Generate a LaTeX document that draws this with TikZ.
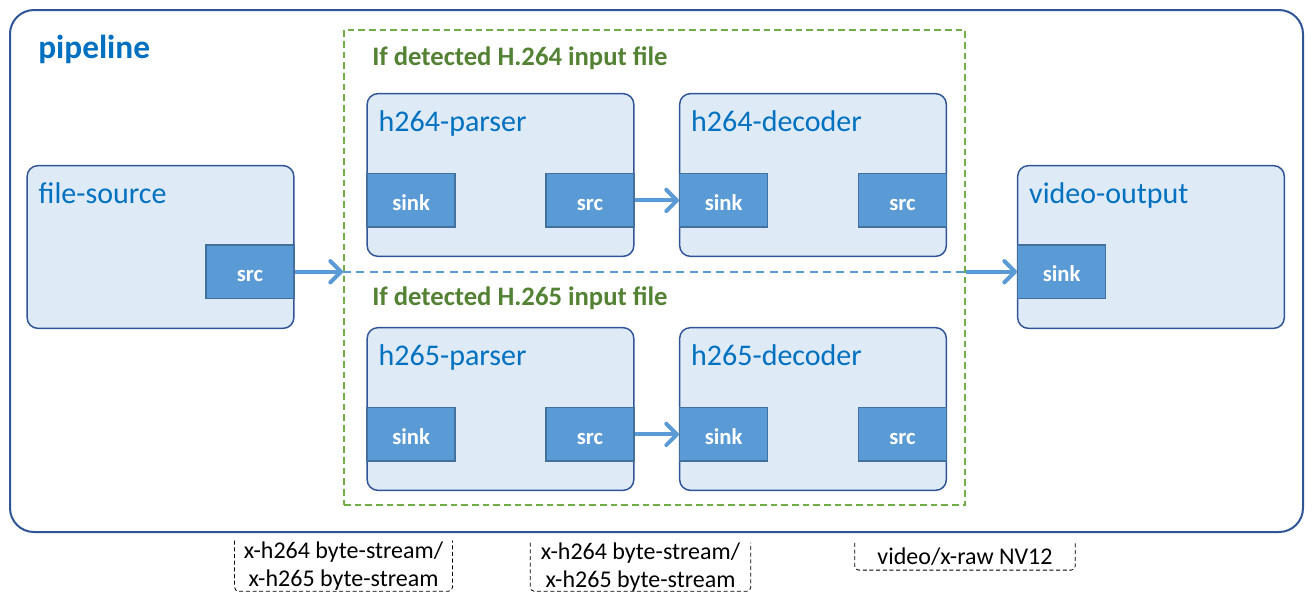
\documentclass[tikz,border=0pt]{standalone}
\usepackage{fontspec}
\setmainfont{Carlito}
\usetikzlibrary{arrows.meta}

\definecolor{frameblue}{HTML}{2F5597}
\definecolor{titleblue}{HTML}{0070C0}
\definecolor{elemfill}{HTML}{DEEBF7}
\definecolor{padfill}{HTML}{5B9BD5}
\definecolor{padline}{HTML}{41719C}
\definecolor{gateline}{HTML}{70AD47}
\definecolor{gatetext}{HTML}{548235}

\begin{document}
\begin{tikzpicture}
  [x=0.75pt,y=-0.75pt,
    element/.style={draw=frameblue,fill=elemfill,line width=1.1pt,rounded corners=8pt,
      minimum width=200pt,minimum height=122pt,inner sep=0pt},
    title/.style={anchor=north west,text=titleblue,inner sep=0pt,
      font=\fontsize{22.5}{27}\selectfont},
    pad/.style={draw=padline,fill=padfill,line width=1pt,minimum width=66pt,
      minimum height=40pt,inner sep=0pt,text height=15pt,text depth=0pt,
      text=white,font=\bfseries\fontsize{17}{20}\selectfont},
    flow/.style={draw=padfill,line width=3pt,-{Straight Barb[length=8pt,width=16pt,round]}},
    link/.style={draw=padfill,line width=1.5pt,dash pattern=on 6pt off 4pt},
    gate/.style={text=gatetext,anchor=west,inner sep=0pt,font=\bfseries\fontsize{20}{24}\selectfont},
    tag/.style={draw=black,line width=0.6pt,dash pattern=on 3pt off 2pt,rounded corners=3pt},
    caption/.style={align=center,inner sep=0pt,font=\fontsize{18}{20.5}\selectfont},
  ]
  \useasboundingbox (0,0) rectangle (1313,601);

  % outer pipeline frame
  \node[draw=frameblue,line width=1.5pt,rounded corners=18pt,minimum width=969.75pt,
    minimum height=391.5pt] (pipeline) at (656.5,271) {};
  \node[anchor=north west,inner sep=0pt,text=titleblue,font=\bfseries\fontsize{25}{30}\selectfont]
    (pipelinetitle) at (38,35) {pipeline};

  % branch chosen by detected input
  \node[draw=gateline,line width=1.5pt,dash pattern=on 5pt off 3pt,minimum width=465.75pt,
    minimum height=356.25pt] (branch) at (654.5,267.5) {};
  \node[gate] (gate264) at (372,58) {If detected H.264 input file};
  \node[gate] (gate265) at (372,298) {If detected H.265 input file};

  % elements
  \node[element] (filesource) at (160.5,247) {};
  \node[element] (parser264) at (500.5,175) {};
  \node[element] (decoder264) at (813,175) {};
  \node[element] (parser265) at (500.5,409) {};
  \node[element] (decoder265) at (813,409) {};
  \node[element] (videooutput) at (1151,247) {};

  \node[title] (filesourcetitle) at ([shift={(12,17)}]filesource.north west) {file-source};
  \node[title] (parser264title) at ([shift={(12,17)}]parser264.north west) {h264-parser};
  \node[title] (decoder264title) at ([shift={(12,17)}]decoder264.north west) {h264-decoder};
  \node[title] (parser265title) at ([shift={(12,17)}]parser265.north west) {h265-parser};
  \node[title] (decoder265title) at ([shift={(12,17)}]decoder265.north west) {h265-decoder};
  \node[title] (videooutputtitle) at ([shift={(12,17)}]videooutput.north west) {video-output};

  % pads
  \node[pad,anchor=south east] (filesrc) at ([yshift=22.5pt]filesource.south east) {src};
  \node[pad,anchor=south west] (parser264sink) at ([yshift=22pt]parser264.south west) {sink};
  \node[pad,anchor=south east] (parser264src) at ([yshift=22pt]parser264.south east) {src};
  \node[pad,anchor=south west] (decoder264sink) at ([yshift=22pt]decoder264.south west) {sink};
  \node[pad,anchor=south east] (decoder264src) at ([yshift=22pt]decoder264.south east) {src};
  \node[pad,anchor=south west] (parser265sink) at ([yshift=22pt]parser265.south west) {sink};
  \node[pad,anchor=south east] (parser265src) at ([yshift=22pt]parser265.south east) {src};
  \node[pad,anchor=south west] (decoder265sink) at ([yshift=22pt]decoder265.south west) {sink};
  \node[pad,anchor=south east] (decoder265src) at ([yshift=22pt]decoder265.south east) {src};
  \node[pad,anchor=south west] (videosink) at ([yshift=22.5pt]videooutput.south west) {sink};

  % links
  \coordinate (branchin) at (branch.west |- filesrc.east);
  \coordinate (branchout) at (branch.east |- filesrc.east);
  \draw[flow] (filesrc.east) -- (branchin);
  \draw[link] (branchin) -- (branchout);
  \draw[flow] (branchout) -- (videosink.west |- branchout);
  \draw[flow] (parser264src) -- (decoder264sink);
  \draw[flow] (parser265src) -- (decoder265sink);

  % caps between elements
  \node[caption,minimum width=163pt,minimum height=37.5pt] (caps1) at (343.5,566)
    {x-h264 byte-stream/\\x-h265 byte-stream};
  \node[caption,minimum width=165pt,minimum height=36pt] (caps2) at (640.5,567)
    {x-h264 byte-stream/\\x-h265 byte-stream};
  \node[caption,minimum width=165pt,minimum height=20pt] (caps3) at (965,556.5)
    {video/x-raw NV12};
  \foreach \c in {caps1,caps2,caps3}
    \draw[tag] (\c.north west) -- (\c.south west) -- (\c.south east) -- (\c.north east);
\end{tikzpicture}
\end{document}
